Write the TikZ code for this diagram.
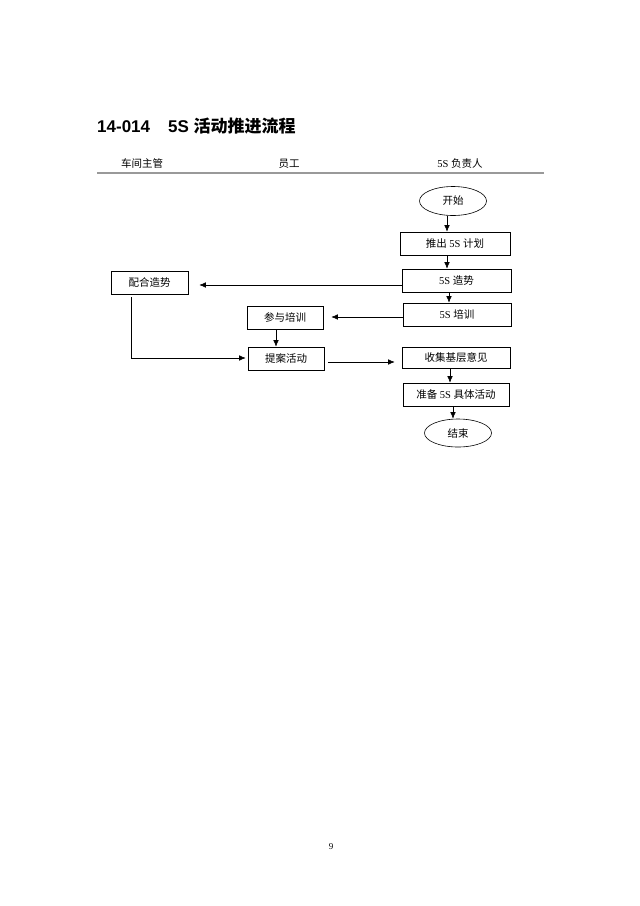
\documentclass[tikz,border=0pt]{standalone}
\usepackage{fontspec}
\setmainfont{Liberation Serif}
\newfontfamily\cjk{Noto Sans CJK SC}
\newfontfamily\titlelat{Liberation Sans}
\usetikzlibrary{arrows.meta,shapes.geometric}
\newcommand\zh[1]{{\cjk #1}}
\begin{document}
\begin{tikzpicture}[x={(1pt,0)},y={(0,-1pt)},
  box/.style={draw,line width=0.6pt,rectangle,inner sep=0pt,font=\fontsize{10.5}{12}\selectfont},
  oval/.style={draw,line width=0.6pt,ellipse,inner sep=0pt,font=\fontsize{10.5}{12}\selectfont},
  arr/.style={line width=0.6pt,-{Latex[length=6.5pt,width=5.5pt]}},
  ln/.style={line width=0.6pt},
  hdr/.style={anchor=base,font=\fontsize{10.5}{12}\selectfont}]
\fill[white] (0,0) rectangle (640,906);
\useasboundingbox (0,0) rectangle (640,906);
% title
\node[anchor=base west,inner sep=0pt,font=\fontsize{17}{20}\selectfont\bfseries] (title) at (97,132)
  {\titlelat 14-014\hspace{18pt}5S {\cjk\bfseries 活动推进流程}};
% headers
\node[hdr] (h1) at (142,167) {\zh{车间主管}};
\node[hdr] (h2) at (289,167) {\zh{员工}};
\node[hdr] (h3) at (460,167) {5S \zh{负责人}};
\coordinate (ruleL) at (97,173);
\coordinate (ruleR) at (544,173);
\draw[line width=1.5pt,gray!80] (ruleL) -- (ruleR);
% nodes
\node[oval,minimum width=67pt,minimum height=29pt] (start) at (453,201) {\zh{开始}};
\node[box,minimum width=110pt,minimum height=23pt] (plan) at (455,243.5) {\zh{推出} 5S \zh{计划}};
\node[box,minimum width=109pt,minimum height=23pt] (zs) at (456.5,280.5) {5S \zh{造势}};
\node[box,minimum width=77pt,minimum height=23pt] (ph) at (149.5,282.5) {\zh{配合造势}};
\node[box,minimum width=108pt,minimum height=23pt] (px) at (457,314.5) {5S \zh{培训}};
\node[box,minimum width=76pt,minimum height=23pt] (cy) at (285,317.5) {\zh{参与培训}};
\node[box,minimum width=76pt,minimum height=23pt] (ta) at (286,358.5) {\zh{提案活动}};
\node[box,minimum width=108pt,minimum height=21pt] (sj) at (456,357.5) {\zh{收集基层意见}};
\node[box,minimum width=106pt,minimum height=23pt] (zb) at (456,394.5) {\zh{准备} 5S \zh{具体活动}};
\node[oval,minimum width=67pt,minimum height=28pt] (end) at (458,433) {\zh{结束}};
% page number
\node[anchor=base,font=\fontsize{9}{10}\selectfont] (pg) at (331,849) {9};
% vertical connectors
\draw[arr] (start.south -| 447,0) -- (plan.north -| 447,0);
\draw[arr] (plan.south -| 447,0) -- (zs.north -| 447,0);
\draw[arr] (zs.south -| 449,0) -- (px.north -| 449,0);
\draw[arr] (cy.south -| 276,0) -- (ta.north -| 276,0);
\draw[arr] (sj.south -| 450,0) -- (zb.north -| 450,0);
\draw[arr] (zb.south -| 453,0) -- (end.north -| 453,0);
% horizontal connectors
\coordinate (zsL) at (zs.west |- 0,285);
\coordinate (phR) at ([xshift=11pt]ph.east |- 0,285);
\draw[arr] (zsL) -- (phR);
\coordinate (pxL) at (px.west |- 0,317);
\coordinate (cyR) at ([xshift=8pt]cy.east |- 0,317);
\draw[arr] (pxL) -- (cyR);
\coordinate (phB) at (131,297);
\coordinate (phC) at (131,358);
\coordinate (taL) at ([xshift=-2pt]ta.west |- 0,358);
\draw[arr] (phB) -- (phC) -- (taL);
\coordinate (taR) at ([xshift=4pt]ta.east |- 0,362);
\coordinate (sjL) at ([xshift=-7pt]sj.west |- 0,362);
\draw[arr] (taR) -- (sjL);
\end{tikzpicture}
\end{document}
